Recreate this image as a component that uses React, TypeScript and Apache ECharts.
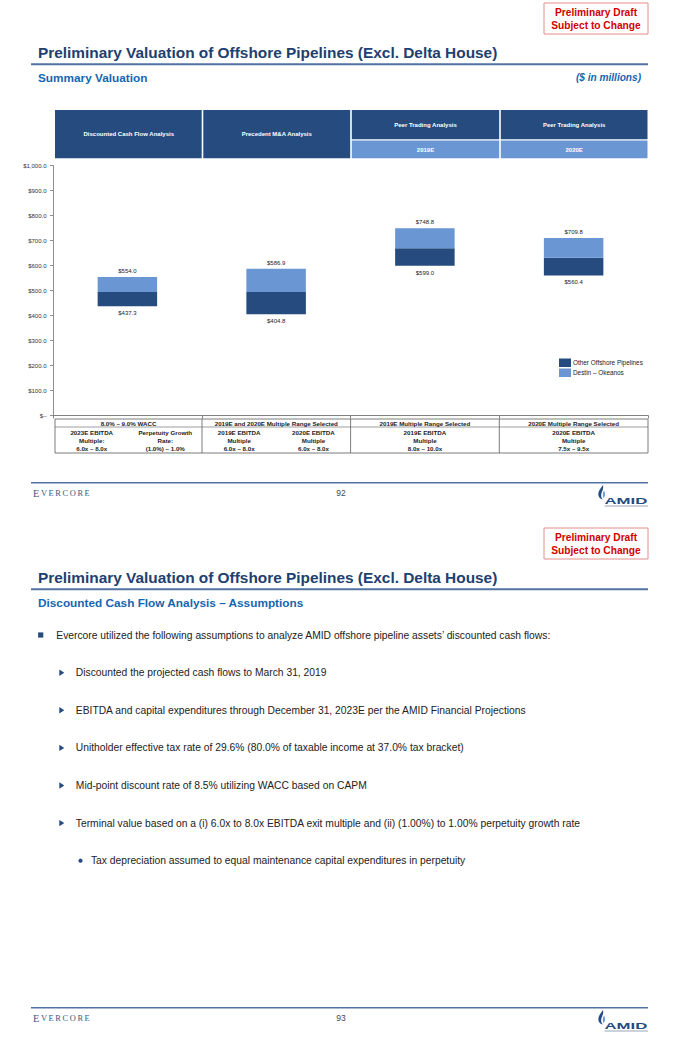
import React, { useEffect, useRef } from "react";
import * as echarts from "echarts";

// ---------- data ----------
const categories = [
  "Discounted Cash Flow Analysis",
  "Precedent M&A Analysis",
  "Peer Trading Analysis 2019E",
  "Peer Trading Analysis 2020E",
];
const lowValues = [437.3, 404.8, 599.0, 560.4];
const midValues = [494.0, 494.0, 669.5, 631.0];
const highValues = [554.0, 586.9, 748.8, 709.8];
const seriesNames = ["Other Offshore Pipelines", "Destin – Okeanos"];
const yMin = 0;
const yMax = 1000;
const yStep = 100;

const headerTop = [
  "Discounted Cash Flow Analysis",
  "Precedent M&A Analysis",
  "Peer Trading Analysis",
  "Peer Trading Analysis",
];
const headerSub = ["", "", "2019E", "2020E"];

const tableTop = [
  "8.0% – 9.0% WACC",
  "2019E and 2020E Multiple Range Selected",
  "2019E Multiple Range Selected",
  "2020E Multiple Range Selected",
];
const tableCells = [
  [
    ["2023E EBITDA", "Multiple:", "6.0x – 8.0x"],
    ["Perpetuity Growth", "Rate:", "(1.0%) – 1.0%"],
  ],
  [
    ["2019E EBITDA", "Multiple", "6.0x – 8.0x"],
    ["2020E EBITDA", "Multiple", "6.0x – 8.0x"],
  ],
  [["2019E EBITDA", "Multiple", "8.0x – 10.0x"]],
  [["2020E EBITDA", "Multiple", "7.5x – 9.5x"]],
];

const titleText = "Preliminary Valuation of Offshore Pipelines (Excl. Delta House)";
const draftLines = ["Preliminary Draft", "Subject to Change"];
const subtitles = ["Summary Valuation", "Discounted Cash Flow Analysis – Assumptions"];
const unitsNote = "($ in millions)";
const pageNumbers = ["92", "93"];
const introBullet =
  "Evercore utilized the following assumptions to analyze AMID offshore pipeline assets’ discounted cash flows:";
const subBullets = [
  "Discounted the projected cash flows to March 31, 2019",
  "EBITDA and capital expenditures through December 31, 2023E per the AMID Financial Projections",
  "Unitholder effective tax rate of 29.6% (80.0% of taxable income at 37.0% tax bracket)",
  "Mid-point discount rate of 8.5% utilizing WACC based on CAPM",
  "Terminal value based on a (i) 6.0x to 8.0x EBITDA exit multiple and (ii) (1.00%) to 1.00% perpetuity growth rate",
];
const subSubBullets = ["Tax depreciation assumed to equal maintenance capital expenditures in perpetuity"];

// ---------- styles ----------
const DARK = "#254B7F";
const LIGHT = "#6A97D4";
const NAVY_TXT = "#21406F";
const BLUE_TXT = "#1566B1";
const RULE = "#5073A3";
const SANS = 'Arial, "Liberation Sans", Helvetica, sans-serif';
const SERIF = '"Liberation Serif", "Times New Roman", serif';

const FLAME_OUTER = "M5.6 0 C3 3.5 0.4 6.5 0.9 10 C1.2 12.5 3 14 5.2 14.6 C3.6 12.5 3.2 10 4.2 7.5 C5 5.5 6.1 3 5.6 0 Z";
const FLAME_INNER = "M6.6 5.4 C5.2 7.5 4.8 10.5 6.1 13.2 C7.7 11.6 8 8 6.6 5.4 Z";
let registered = false;
function registerShapes() {
  if (registered) return;
  registered = true;
  echarts.graphic.registerShape("amidFlameOuter", echarts.graphic.extendPath(FLAME_OUTER, {}));
  echarts.graphic.registerShape("amidFlameInner", echarts.graphic.extendPath(FLAME_INNER, {}));
}

type TOpt = { fs?: number; fw?: string; fst?: string; ff?: string; c?: string; al?: string; sx?: number };
function T(x: number, y: number, text: string, o: TOpt = {}) {
  return {
    type: "text",
    x,
    y,
    scaleX: o.sx ?? 1,
    silent: true,
    style: {
      text,
      fontSize: o.fs ?? 10,
      fontWeight: o.fw ?? "normal",
      fontStyle: o.fst ?? "normal",
      fontFamily: o.ff ?? SANS,
      fill: o.c ?? "#222",
      align: o.al ?? "left",
      verticalAlign: "middle",
    },
  };
}
function R(x: number, y: number, w: number, h: number, style: any) {
  return { type: "rect", silent: true, shape: { x, y, width: w, height: h }, style };
}
function L(x1: number, y1: number, x2: number, y2: number, stroke: string, lineWidth: number) {
  return { type: "line", silent: true, shape: { x1, y1, x2, y2 }, style: { stroke, lineWidth } };
}

function buildPage(oy: number, pageIdx: number) {
  const els: any[] = [];
  // draft box
  els.push(R(544, oy + 3, 104, 31, { fill: "#fff", stroke: "#E68C8C", lineWidth: 1 }));
  els.push(T(596, oy + 12.7, draftLines[0], { fs: 10.2, fw: "bold", c: "#D10000", al: "center" }));
  els.push(T(596, oy + 25, draftLines[1], { fs: 10.2, fw: "bold", c: "#D10000", al: "center" }));
  // title + rule
  els.push(T(38, oy + 52.3, titleText, { fs: 15.4, fw: "bold", c: NAVY_TXT }));
  els.push(L(31, oy + 64.3, 648, oy + 64.3, RULE, 2));
  els.push(T(38, oy + 77.5, subtitles[pageIdx], { fs: 11.8, fw: "bold", c: BLUE_TXT }));
  // footer
  els.push(L(31, oy + 482.7, 648, oy + 482.7, RULE, 1.5));
  const letters = ["E", "V", "E", "R", "C", "O", "R", "E"];
  const adv = [0.611, 0.722, 0.611, 0.667, 0.667, 0.722, 0.667, 0.611];
  let lx = 33;
  letters.forEach((ch, i) => {
    const fs = i === 0 ? 10.4 : 8.4;
    els.push(T(lx, oy + 493.3, ch, { fs, ff: SERIF, c: "#3A5886" }));
    lx += adv[i] * fs + 1.6;
  });
  els.push(T(341, oy + 493.3, pageNumbers[pageIdx], { fs: 8.5, c: "#4A4A4A", al: "center" }));
  // AMID logo
  els.push({ type: "amidFlameOuter", x: 597.5, y: oy + 485, silent: true, style: { fill: DARK } });
  els.push({ type: "amidFlameInner", x: 597.5, y: oy + 485, silent: true, style: { fill: LIGHT } });
  els.push(T(604.5, oy + 501.2, "AMID", { fs: 8.6, fw: "bold", c: DARK, sx: 1.95 }));
  els.push(R(604.5, oy + 505.6, 43.5, 0.9, { fill: "#9AA6B8" }));
  return els;
}

function buildPage1Extras() {
  const els: any[] = [];
  els.push(T(641, 77.5, unitsNote, { fs: 10.1, fw: "bold", fst: "italic", c: BLUE_TXT, al: "right" }));
  // header table
  const cols = [55, 202.5, 351, 500, 648.3];
  for (let i = 0; i < 4; i++) {
    const x0 = cols[i] + (i === 0 ? 0 : 0.8);
    const x1 = cols[i + 1] - 0.8;
    const cx = (cols[i] + cols[i + 1]) / 2;
    if (headerSub[i]) {
      els.push(R(x0, 110, x1 - x0, 29.2, { fill: DARK }));
      els.push(R(x0, 140.6, x1 - x0, 17.7, { fill: LIGHT }));
      els.push(T(cx, 125, headerTop[i], { fs: 6, fw: "bold", c: "#fff", al: "center" }));
      els.push(T(cx, 149.8, headerSub[i], { fs: 6, fw: "bold", c: "#fff", al: "center" }));
    } else {
      els.push(R(x0, 110, x1 - x0, 48.3, { fill: DARK }));
      els.push(T(cx, 134, headerTop[i], { fs: 6, fw: "bold", c: "#fff", al: "center" }));
    }
  }
  // bottom table
  const tTop = 419, tMid = 427, tBot = 453;
  const bc = "#5A5A5A";
  els.push(R(55, tTop, 648 - 55, tBot - tTop, { fill: "none", stroke: bc, lineWidth: 0.8 }));
  els.push(L(55, tMid, 648, tMid, bc, 0.6));
  const tcols = [55, 202, 350.6, 499.3, 648];
  for (let i = 0; i < 4; i++) {
    if (i > 0) els.push(L(tcols[i], tTop, tcols[i], tBot, bc, 0.8));
    const cx = (tcols[i] + tcols[i + 1]) / 2;
    els.push(T(cx, 423, tableTop[i], { fs: 6.2, fw: "bold", c: "#222", al: "center" }));
    const parts = tableCells[i];
    const w = (tcols[i + 1] - tcols[i]) / parts.length;
    parts.forEach((lines, j) => {
      const px = tcols[i] + w * (j + 0.5);
      lines.forEach((ln, k) => {
        els.push(T(px, 432 + k * 8, ln, { fs: 6.2, fw: "bold", c: "#222", al: "center" }));
      });
    });
  }
  return els;
}

function buildPage2Body(oy: number) {
  const els: any[] = [];
  const fs = 10.3;
  const y0 = oy + 110;
  els.push(R(38.1, y0 - 2.6, 5.2, 5.2, { fill: DARK }));
  els.push(T(56.3, y0, introBullet, { fs }));
  subBullets.forEach((s, i) => {
    const y = oy + 147.7 + i * 37.6;
    els.push({ type: "polygon", silent: true, shape: { points: [[59.3, y - 3.2], [64.3, y], [59.3, y + 3.2]] }, style: { fill: DARK } });
    els.push(T(75.8, y, s, { fs }));
  });
  subSubBullets.forEach((s, i) => {
    const y = oy + 335.7 + i * 37.6;
    els.push({ type: "circle", silent: true, shape: { cx: 80.5, cy: y, r: 2.1 }, style: { fill: DARK } });
    els.push(T(90.9, y, s, { fs }));
  });
  return els;
}

export default function App() {
  const ref = useRef<HTMLDivElement>(null);
  useEffect(() => {
    if (!ref.current) return;
    registerShapes();
    const chart = echarts.init(ref.current, undefined, { renderer: "svg" });
    const fmt = (v: number) => "$" + v.toLocaleString("en-US", { minimumFractionDigits: 1, maximumFractionDigits: 1 });
    const option: any = {
      animation: false,
      backgroundColor: "#fff",
      textStyle: { fontFamily: SANS },
      grid: { left: 53, right: 32, top: 165.5, bottom: 1050 - 415.5, containLabel: false },
      legend: {
        data: seriesNames,
        orient: "vertical",
        left: 559,
        top: 358.5,
        padding: 0,
        itemWidth: 12,
        itemHeight: 8.5,
        itemGap: 1.5,
        icon: "rect",
        selectedMode: false,
        textStyle: { fontSize: 6.4, color: "#222", fontFamily: SANS, padding: [0, 0, 0, -3] },
      },
      xAxis: {
        type: "category",
        data: categories,
        axisLine: { lineStyle: { color: "#808080", width: 1 } },
        axisTick: { show: true, interval: 0, length: 3, lineStyle: { color: "#808080" } },
        axisLabel: { show: false },
        splitLine: { show: false },
      },
      yAxis: {
        type: "value",
        min: yMin,
        max: yMax,
        interval: yStep,
        axisLine: { show: true, lineStyle: { color: "#909090", width: 1 } },
        axisTick: { show: true, length: 3, lineStyle: { color: "#909090" } },
        splitLine: { show: false },
        axisLabel: {
          fontSize: 6,
          color: "#333",
          margin: 6.5,
          fontFamily: SANS,
          formatter: (v: number) => (v === 0 ? "$–" : fmt(v)),
        },
      },
      series: [
        {
          name: "base",
          type: "bar",
          stack: "v",
          barWidth: "40%",
          data: lowValues,
          itemStyle: { color: "transparent" },
          emphasis: { disabled: true },
          silent: true,
          label: {
            show: true,
            position: "insideTop",
            distance: 4,
            fontSize: 6,
            color: "#222",
            fontFamily: SANS,
            formatter: (p: any) => fmt(lowValues[p.dataIndex]),
          },
        },
        {
          name: seriesNames[0],
          type: "bar",
          stack: "v",
          barWidth: "40%",
          data: midValues.map((m, i) => +(m - lowValues[i]).toFixed(1)),
          itemStyle: { color: DARK },
          emphasis: { disabled: true },
        },
        {
          name: seriesNames[1],
          type: "bar",
          stack: "v",
          barWidth: "40%",
          data: highValues.map((h, i) => +(h - midValues[i]).toFixed(1)),
          itemStyle: { color: LIGHT },
          emphasis: { disabled: true },
          label: {
            show: true,
            position: "top",
            distance: 3,
            fontSize: 6,
            color: "#222",
            fontFamily: SANS,
            formatter: (p: any) => fmt(highValues[p.dataIndex]),
          },
        },
      ],
      graphic: {
        elements: [...buildPage(0, 0), ...buildPage1Extras(), ...buildPage(525, 1), ...buildPage2Body(525)],
      },
    };
    chart.setOption(option);
    return () => chart.dispose();
  }, []);
  return <div ref={ref} style={{ position: "absolute", left: 0, top: 0, width: 680, height: 1050 }} />;
}
